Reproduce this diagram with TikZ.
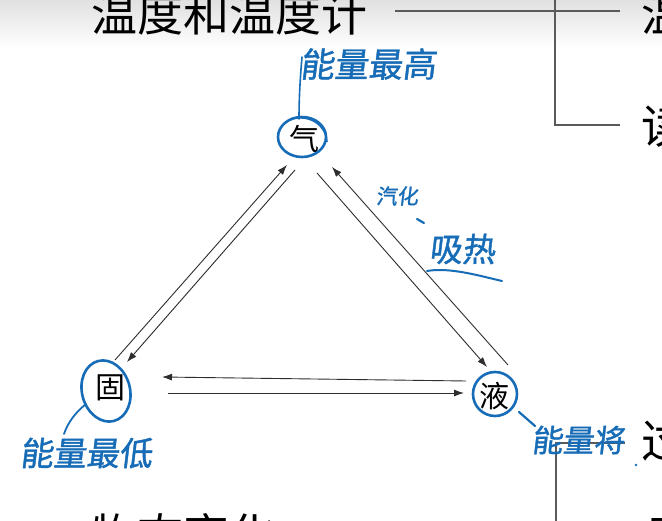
\documentclass[tikz,border=0pt]{standalone}
\usepackage{fontspec}
\newfontfamily\cjk{Noto Sans CJK SC}
\newfontfamily\hand{Noto Sans CJK SC}[FakeBold=1.2,FakeSlant=0.12]
\usetikzlibrary{arrows.meta,calc}

\definecolor{pen}{RGB}{22,108,182}
\definecolor{rule}{RGB}{90,90,90}
\definecolor{line}{RGB}{45,45,45}

\tikzset{
  heading/.style={font=\cjk\fontsize{46}{46}\selectfont, inner sep=0pt, anchor=west, text=black},
  phase/.style={font=\cjk\fontsize{30}{30}\selectfont, inner sep=0pt, text=black},
  note/.style={font=\hand\fontsize{#1}{#1}\selectfont, inner sep=0pt, text=pen},
  note/.default=33,
  outline/.style={draw=rule, line width=1.3pt},
  change/.style={draw=line, line width=0.9pt, -{Latex[length=10pt,width=7pt]}},
  ring/.style={draw=pen, line width=2.6pt},
  stroke/.style={draw=pen, line width=2.2pt, line cap=round}
}

\begin{document}
\begin{tikzpicture}[x=1pt,y=-1pt]
\useasboundingbox (0,0) rectangle (662,521);
\clip (0,0) rectangle (662,521);

% slide background with a faint band at the top
\fill[white] (0,0) rectangle (662,521);
\shade[top color=black!12, bottom color=white] (0,0) rectangle (662,48);

% outline headings
\node[heading] (title) at (91,14) {温度和温度计};
\node[heading] (wen) at (641,14) {温};
\node[heading] (du) at (641,126) {读};
\node[heading] (change) at (91,535) {物态变化};
\node[heading] (guo) at (641,441) {过};
\node[heading] (jing) at (641,539) {晶};

% outline brackets
\coordinate (b1) at (395,11);
\coordinate (b3) at (620,11);
\coordinate (b4) at (555,0);
\coordinate (b5) at (555,125);
\coordinate (b6) at (620,125);
\draw[outline] (b1) -- (b3);
\draw[outline] (b4) -- (b5) -- (b6);
\coordinate (c1) at (556,443);
\coordinate (c2) at (625,443);
\coordinate (c3) at (556,521);
\draw[outline] (c3) -- (c1) -- (c2);

% the three states
\node[phase] (gas) at (304,139) {气};
\node[phase] (solid) at (110,388) {固};
\node[phase] (liquid) at (494,396) {液};

% end points of the paired transitions
\coordinate (sA) at (115,360);  \coordinate (gA) at (287,165);
\coordinate (gB) at (295,170);  \coordinate (sB) at (127,362);
\coordinate (gC) at (317,173);  \coordinate (lC) at (487,367);
\coordinate (lD) at (508,365);  \coordinate (gD) at (332,167);
\coordinate (lE) at (466,381);  \coordinate (sE) at (162,377);
\coordinate (sF) at (168,393);  \coordinate (lF) at (464,393);

\draw[change] (sA) -- (gA);
\draw[change] (gB) -- (sB);
\draw[change] (gC) -- (lC);
\draw[change] (lD) -- (gD);
\draw[change] (lE) -- (sE);
\draw[change] (sF) -- (lF);

% handwritten rings around the states
\draw[ring] (302,137) ellipse (24 and 20);
\draw[pen, line width=1.6pt] (290,119) .. controls (310,114) and (326,125) .. (327,142);
\draw[ring, rotate around={15:(106,391)}] (106,391) ellipse (24 and 31);
\draw[ring] (495,394) circle (22);

% handwritten notes
\node[note=34] (high) at (368,64) {能量最高};
\draw[stroke, line width=1.6pt] (299,119) .. controls (299,100) and (300,80) .. (302,57);

\node[note=33] (low) at (86,453) {能量最低};
\draw[stroke, line width=1.8pt] (86,404) .. controls (76,412) and (68,422) .. (64,434);

\node[note=31] (mid) at (578,440) {能量将};
\draw[stroke] (519,412) -- (535,426);
\fill[pen] (636,465) circle (1.3);

\node[note=21] (vap) at (397,196) {汽化};
\draw[stroke] (417,219) -- (424,223);
\node[note=33] (absorb) at (462,249) {吸热};
\draw[stroke, line width=2pt] (427,271) .. controls (450,267) and (480,276) .. (502,281);
\end{tikzpicture}
\end{document}
